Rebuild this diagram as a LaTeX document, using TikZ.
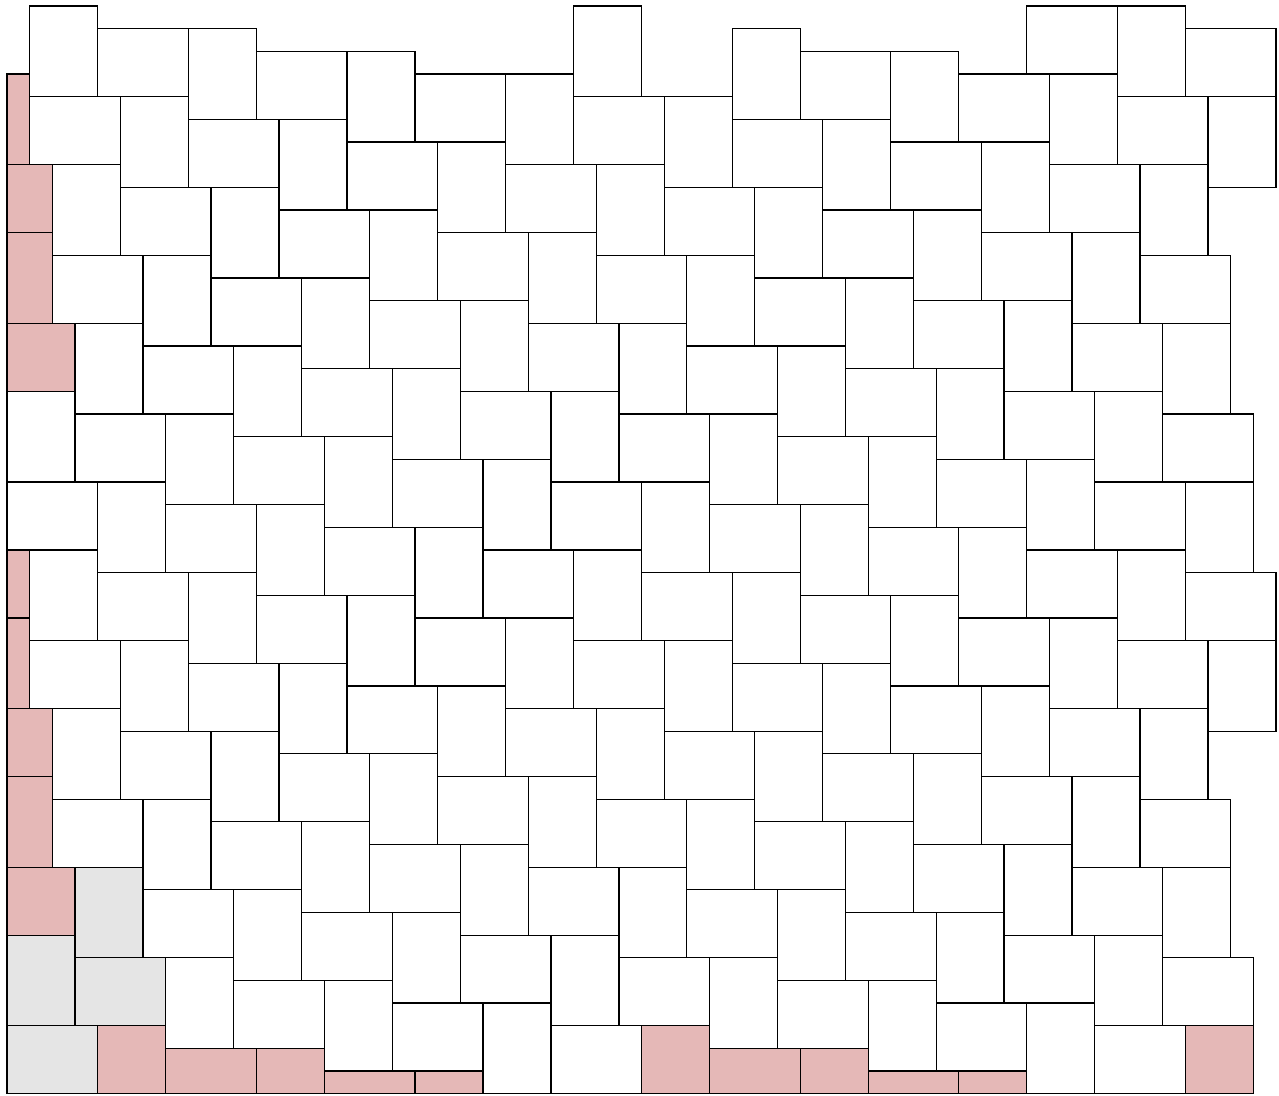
\documentclass[tikz,border=0pt]{standalone}
\usepackage{tikz}

\definecolor{cutpink}{HTML}{E5B8B7}
\definecolor{cornergrey}{HTML}{E5E5E5}

\begin{document}
\begin{tikzpicture}[x=0.5cm, y=-0.5cm,
    tile/.style={draw=black, line width=0.8pt, fill=white},
    cut/.style={tile, fill=cutpink},
    corner/.style={tile, fill=cornergrey}
  ]
  \useasboundingbox (-0.309,-0.265) rectangle (56.13,48.06);
  % upright bricks, 3 wide, 4 high
  \foreach \row in {0,...,47} {
    \pgfmathtruncatemacro{\vx}{mod(7*\row+1,24)}
    \foreach \k in {-1,0,1,2} {
      \pgfmathtruncatemacro{\xa}{\vx+24*\k}
      \pgfmathtruncatemacro{\keep}{(\xa+3>0)&&(\xa+3<57)}
      \ifnum\keep=1
        \pgfmathtruncatemacro{\iscut}{(\xa<0)||(\row+4>48)}
        \pgfmathtruncatemacro{\isgrey}{((\xa==3)&&(\row==38))||((\xa==0)&&(\row==41))}
        \pgfmathtruncatemacro{\xl}{max(\xa,0)}
        \pgfmathtruncatemacro{\yb}{min(\row+4,48)}
        \ifnum\iscut=1 \def\st{cut}\else\ifnum\isgrey=1 \def\st{corner}\else\def\st{tile}\fi\fi
        \draw[\st] (\xl,\row) rectangle (\xa+3,\yb);
      \fi
    }
  }
  % lying bricks, 4 wide, 3 high
  \foreach \row in {0,...,47} {
    \pgfmathtruncatemacro{\hx}{mod(7*\row+21,24)}
    \foreach \k in {-1,0,1,2} {
      \pgfmathtruncatemacro{\xa}{\hx+24*\k}
      \pgfmathtruncatemacro{\drop}{((\row==0)&&((\xa==-3)||(\xa==21)))||((\row==1)&&(\xa==28))}
      \pgfmathtruncatemacro{\keep}{(\xa+4>0)&&(\xa+4<57)&&(\drop==0)}
      \ifnum\keep=1
        \pgfmathtruncatemacro{\iscut}{(\xa<0)||(\row+3>48)}
        \pgfmathtruncatemacro{\isgrey}{((\xa==3)&&(\row==42))||((\xa==0)&&(\row==45))}
        \pgfmathtruncatemacro{\xl}{max(\xa,0)}
        \pgfmathtruncatemacro{\yb}{min(\row+3,48)}
        \ifnum\iscut=1 \def\st{cut}\else\ifnum\isgrey=1 \def\st{corner}\else\def\st{tile}\fi\fi
        \draw[\st] (\xl,\row) rectangle (\xa+4,\yb);
      \fi
    }
  }
\end{tikzpicture}
\end{document}
